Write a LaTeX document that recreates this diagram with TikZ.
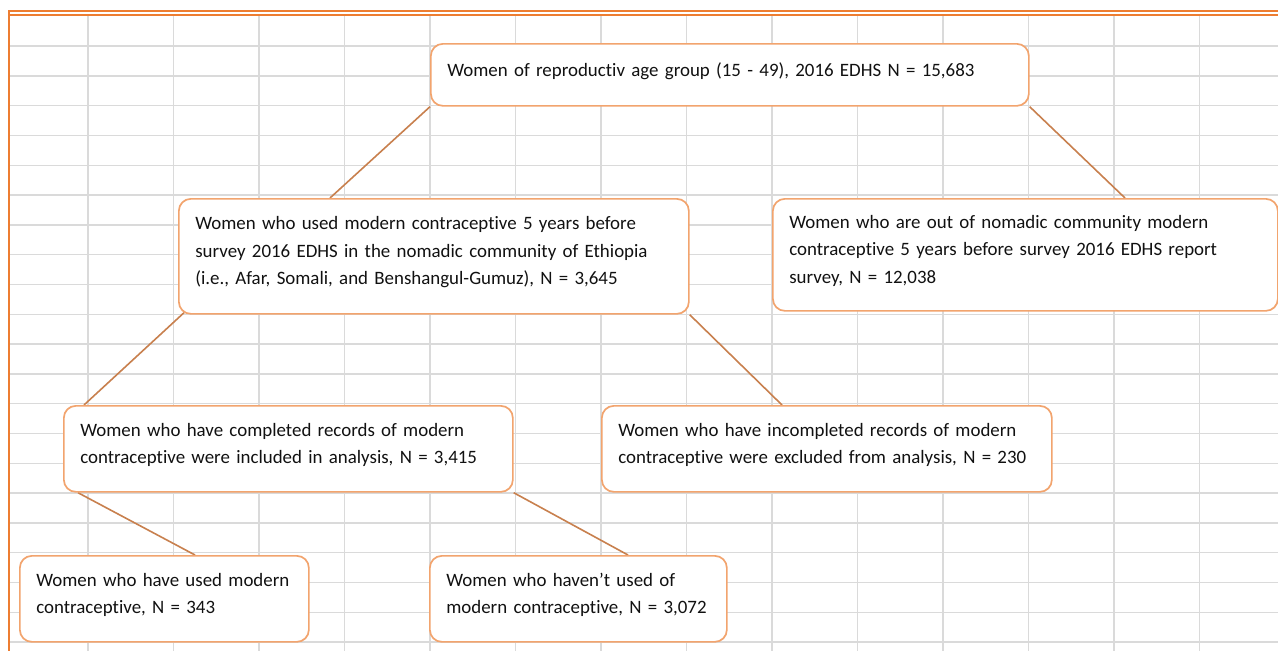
\documentclass[tikz,border=0pt]{standalone}
\usepackage{fontspec}
\setmainfont{Carlito}[Ligatures=NoCommon]
\definecolor{boxc}{HTML}{F2A46E}
\definecolor{linkc}{HTML}{C8804E}
\definecolor{gridc}{HTML}{DADADA}
\definecolor{framec}{HTML}{ED7D31}
\definecolor{txtc}{HTML}{111111}
\pgfdeclarelayer{bg}
\pgfsetlayers{bg,main}
\newcommand{\bxpad}{\rule[-11pt]{0pt}{1pt}}
\newcommand{\bxline}[1]{\mbox{#1}}
\begin{document}
\begin{tikzpicture}[x=1pt,y=-1pt,
  box/.style={draw=boxc, line width=1.7pt, rounded corners=12pt, fill=white,
    anchor=north west, align=left, inner xsep=16.5pt, inner ysep=0pt,
    font=\fontsize{18.9}{27.5}\selectfont, text=txtc},
  link/.style={draw=linkc, line width=1.6pt},
  gridline/.style={draw=gridc, line width=1.4pt},
  frameline/.style={draw=framec, line width=2pt}]
\useasboundingbox (0,0) rectangle (1278,651);

\node[box, text width=565pt, minimum height=62pt] (top) at (430,43)
  {\bxline{Women of reproductiv age group (15 - 49), 2016 EDHS N = 15,683}\bxpad};
\node[box, text width=477pt, minimum height=115pt] (nomad) at (178,198)
  {\bxline{Women who used modern contraceptive 5 years before}\\
   \bxline{survey 2016 EDHS in the nomadic community of Ethiopia}\\
   \bxline{(i.e., Afar, Somali, and Benshangul-Gumuz), N = 3,645}\bxpad};
\node[box, text width=472pt, minimum height=112pt] (out) at (772,198)
  {\bxline{Women who are out of nomadic community modern}\\
   \bxline{contraceptive 5 years before survey 2016 EDHS report}\\
   \bxline{survey, N = 12,038}\bxpad};
\node[box, text width=416pt, minimum height=86pt] (comp) at (63,405)
  {\bxline{Women who have completed records of modern}\\
   \bxline{contraceptive were included in analysis, N = 3,415}\bxpad};
\node[box, text width=417pt, minimum height=86pt] (inc) at (601,405)
  {\bxline{Women who have incompleted records of modern}\\
   \bxline{contraceptive were excluded from analysis, N = 230}\bxpad};
\node[box, text width=256pt, minimum height=86pt] (used) at (19,555)
  {\bxline{Women who have used modern}\\
   \bxline{contraceptive, N = 343}\bxpad};
\node[box, text width=264pt, minimum height=86pt] (notused) at (429,555)
  {\bxline{Women who haven’t used of}\\
   \bxline{modern contraceptive, N = 3,072}\bxpad};

\begin{pgfonlayer}{bg}
  \fill[white] (0,0) rectangle (1278,651);
  \foreach \k in {0,...,13} {\draw[gridline] (88+85.5*\k,15) -- (88+85.5*\k,651);}
  \foreach \k in {0,...,20} {\draw[gridline] (9,46+29.8*\k) -- (1278,46+29.8*\k);}
  \draw[frameline] (8,10.5) -- (1278,10.5);
  \draw[frameline] (8,14.5) -- (1278,14.5);
  \draw[frameline] (9,10) -- (9,651);
  \draw[link] (top.south west) -- ([xshift=152pt]nomad.north west);
  \draw[link] (top.south east) -- ([xshift=353pt]out.north west);
  \draw[link] ([xshift=6pt,yshift=2pt]nomad.south west) -- ([xshift=21pt]comp.north west);
  \draw[link] (nomad.south east) -- ([xshift=181pt]inc.north west);
  \draw[link] ([xshift=15pt]comp.south west) -- ([xshift=176pt]used.north west);
  \draw[link] (comp.south east) -- ([xshift=199pt]notused.north west);
\end{pgfonlayer}
\end{tikzpicture}
\end{document}
